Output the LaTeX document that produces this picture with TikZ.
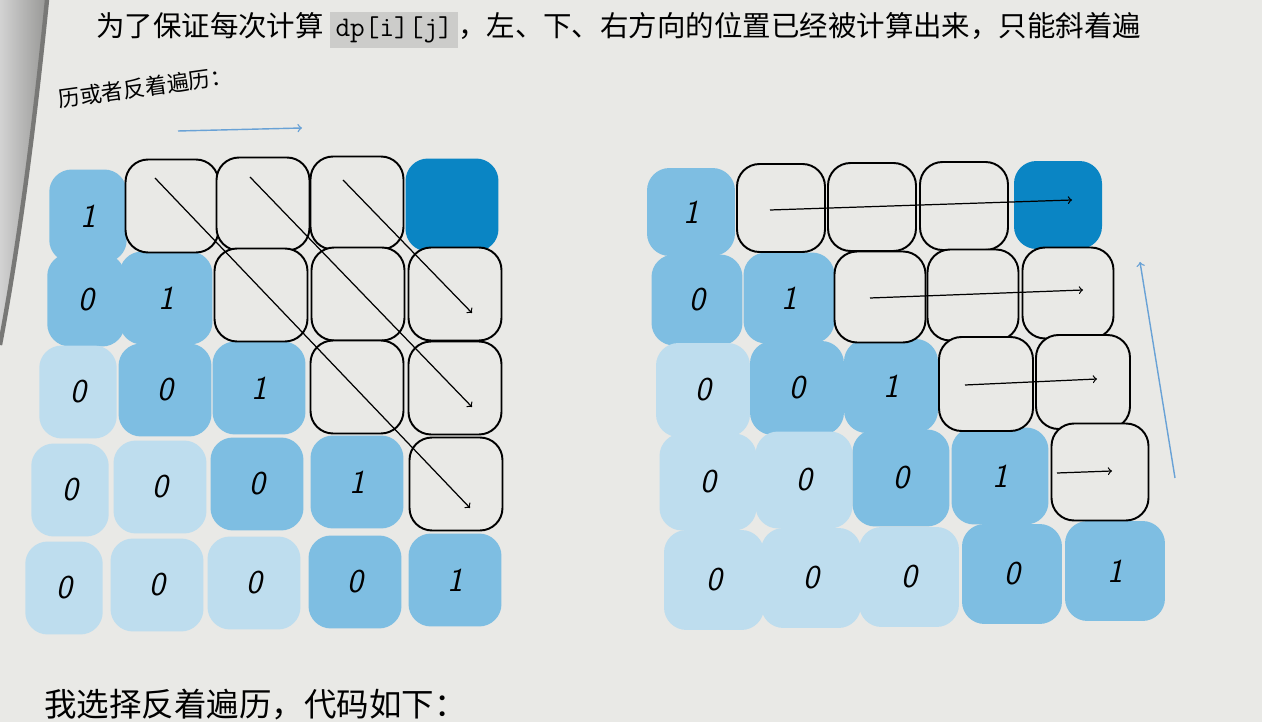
\documentclass[tikz,border=0pt]{standalone}
\usepackage{fontspec}
\newfontfamily\cjk{Noto Sans CJK SC}
\definecolor{page}{RGB}{233,233,230}
\definecolor{edge}{RGB}{150,150,148}
\definecolor{cellLight}{RGB}{190,221,238}
\definecolor{cellMid}{RGB}{126,190,226}
\definecolor{cellDark}{RGB}{10,133,196}
\definecolor{blueLine}{RGB}{105,162,214}
\definecolor{codeBg}{RGB}{204,204,202}
\newcommand\cellfont{\fontsize{19}{22}\selectfont\sffamily\itshape}
\tikzset{
	cell/.style={rounded corners=0.45cm, minimum width=#1, minimum height=#1, inner sep=0pt, font=\cellfont},
	lt/.style={cell=#1, fill=cellLight}, lt/.default=1.86cm,
	md/.style={cell=#1, fill=cellMid}, md/.default=1.86cm,
	dk/.style={cell=#1, fill=cellDark}, dk/.default=1.86cm,
	wh/.style={cell=#1, draw=black, line width=1.1pt, fill=page}, wh/.default=1.86cm,
	narrow/.style={minimum width=1.55cm},
	pass/.style={-to, line width=0.7pt},
	order/.style={-to, blueLine, line width=0.8pt},
}

\begin{document}
\begin{tikzpicture}[x=0.02cm, y=-0.02cm]
				\useasboundingbox (0,0) rectangle (1262,722);
				\fill[page] (0,0) rectangle (1262,722);
				\fill[left color=gray!35, right color=edge] (0,0) -- (48,0) .. controls (32,150) and (16,260) .. (0,345) -- cycle;
				\draw[edge!80!black, line width=2.5pt] (47,0) .. controls (32,150) and (16,260) .. (0,345);
				
				\node[anchor=west, font=\fontsize{16.2}{19}\selectfont\cjk] (line1) at (90,30) {为了保证每次计算 \colorbox{codeBg}{\ttfamily dp[i][j]}，左、下、右方向的位置已经被计算出来，只能斜着遍};
				\node[anchor=west, rotate=8, font=\fontsize{12.5}{15}\selectfont\cjk] (line2) at (52,100) {历或者反着遍历：};
				\node[anchor=west, font=\fontsize{18.5}{21}\selectfont\cjk] (line3) at (38,705) {我选择反着遍历，代码如下：};
				
				\node[md, narrow] (L00) at (88,216) {1};
				\node[md, narrow] (L10) at (86,300) {0};
				\node[md] (L11) at (166,298) {1};
				\node[lt, narrow] (L20) at (78,392) {0};
				\node[md] (L21) at (165,390) {0};
				\node[md] (L22) at (259,388) {1};
				\node[lt, narrow] (L30) at (70,490) {0};
				\node[lt] (L31) at (160,487) {0};
				\node[md] (L32) at (257,484) {0};
				\node[md] (L33) at (357,482) {1};
				\node[lt, narrow] (L40) at (64,588) {0};
				\node[lt] (L41) at (157,585) {0};
				\node[lt] (L42) at (254,583) {0};
				\node[md] (L43) at (355,582) {0};
				\node[md] (L44) at (455,580) {1};
				\node[dk] (L04) at (452,205) {};
				
				\node[wh] (L01) at (172,206) {};
				\node[wh] (L02) at (263,204) {};
				\node[wh] (L03) at (357,203) {};
				\node[wh] (L12) at (261,295) {};
				\node[wh] (L13) at (358,294) {};
				\node[wh] (L14) at (455,294) {};
				\node[wh] (L23) at (357,387) {};
				\node[wh] (L24) at (455,388) {};
				\node[wh] (L34) at (456,484) {};
				
				\coordinate (ds1) at (155,178);
				\coordinate (de1) at (470,508);
				\coordinate (ds2) at (250,177);
				\coordinate (de2) at (472,407);
				\coordinate (ds3) at (343,180);
				\coordinate (de3) at (472,313);
				\draw[pass] (ds1) -- (de1);
				\draw[pass] (ds2) -- (de2);
				\draw[pass] (ds3) -- (de3);
				
				\coordinate (bs1) at (178,131);
				\coordinate (be1) at (302,128);
				\draw[order] (bs1) -- (be1);
				
				\node[md=1.76cm] (R00) at (691,212) {1};
				\node[md=1.82cm] (R10) at (697,300) {0};
				\node[md=1.82cm] (R11) at (789,298) {1};
				\node[lt=1.88cm] (R20) at (703,390) {0};
				\node[md=1.88cm] (R21) at (797,388) {0};
				\node[md=1.88cm] (R22) at (891,386) {1};
				\node[lt=1.94cm] (R30) at (708,482) {0};
				\node[lt=1.94cm] (R31) at (804,480) {0};
				\node[md=1.94cm] (R32) at (901,478) {0};
				\node[md=1.94cm] (R33) at (1000,476) {1};
				\node[lt=2cm] (R40) at (714,580) {0};
				\node[lt=2cm] (R41) at (811,578) {0};
				\node[lt=2cm] (R42) at (909,577) {0};
				\node[md=2cm] (R43) at (1012,574) {0};
				\node[md=2cm] (R44) at (1115,571) {1};
				\node[dk=1.76cm] (R04) at (1058,205) {};
				
				\node[wh=1.76cm] (R01) at (781,208) {};
				\node[wh=1.76cm] (R02) at (872,207) {};
				\node[wh=1.76cm] (R03) at (964,206) {};
				\node[wh=1.82cm] (R12) at (880,297) {};
				\node[wh=1.82cm] (R13) at (973,295) {};
				\node[wh=1.82cm] (R14) at (1068,293) {};
				\node[wh=1.88cm] (R23) at (986,384) {};
				\node[wh=1.88cm] (R24) at (1083,382) {};
				\node[wh=1.94cm] (R34) at (1100,472) {};
				
				\coordinate (rs1) at (770,210);
				\coordinate (re1) at (1072,200);
				\coordinate (rs2) at (870,298);
				\coordinate (re2) at (1083,290);
				\coordinate (rs3) at (965,385);
				\coordinate (re3) at (1097,379);
				\coordinate (rs4) at (1057,473);
				\coordinate (re4) at (1112,471);
				\draw[pass] (rs1) -- (re1);
				\draw[pass] (rs2) -- (re2);
				\draw[pass] (rs3) -- (re3);
				\draw[pass] (rs4) -- (re4);
				
				\coordinate (bs2) at (1175,478);
				\coordinate (be2) at (1140,262);
				\draw[order] (bs2) -- (be2);
			\end{tikzpicture}
\end{document}
